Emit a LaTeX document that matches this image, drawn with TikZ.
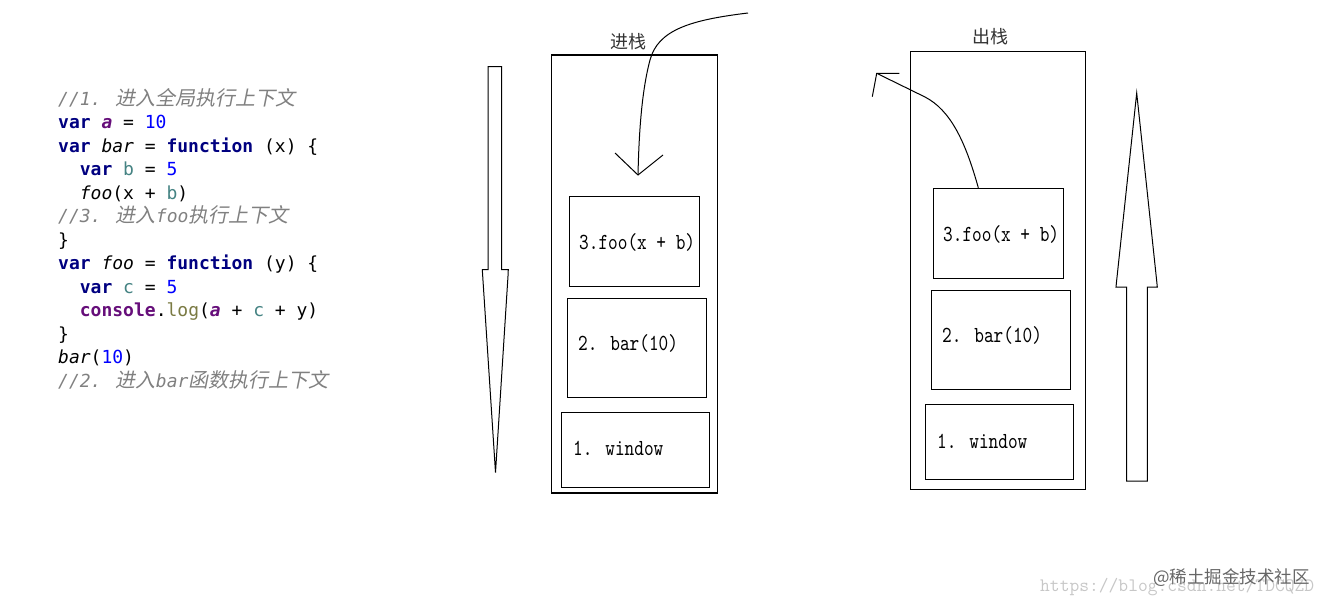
\documentclass[tikz,border=0pt]{standalone}
\usepackage{fontspec}
\newfontfamily\codefont{DejaVu Sans Mono}
\newfontfamily\cjkfont{Noto Sans CJK SC}
\newfontfamily\cjkslant[FakeSlant=0.2]{Noto Sans CJK SC}
\newfontfamily\boxfont[FakeStretch=0.8]{lmmono10-regular.otf}
\definecolor{kwc}{HTML}{000080}
\definecolor{purp}{HTML}{660E7A}
\definecolor{numc}{HTML}{0000FF}
\definecolor{teal2}{HTML}{458383}
\definecolor{olive2}{HTML}{7A7A43}
\definecolor{cmtc}{HTML}{808080}
\newcommand\jkw[1]{\textcolor{kwc}{\bfseries #1}}
\newcommand\jva[1]{\textcolor{purp}{\bfseries\itshape #1}}
\newcommand\jnum[1]{\textcolor{numc}{#1}}
\newcommand\jvb[1]{\textcolor{teal2}{#1}}
\newcommand\jcons[1]{\textcolor{purp}{\bfseries #1}}
\newcommand\jlog[1]{\textcolor{olive2}{#1}}
\newcommand\jcmt[1]{\textcolor{cmtc}{#1}}
\newcommand\jzh[1]{{\cjkslant\fontsize{20}{22}\selectfont #1}}
\begin{document}
\begin{tikzpicture}[x=1pt,y=-1pt,
  codeline/.style={anchor=base west,inner sep=0pt,font=\codefont\fontsize{18}{20}\selectfont},
  frame/.style={draw=black,line width=1.1pt,inner sep=0pt},
  boxtext/.style={anchor=west,inner sep=0pt,text=black,font=\boxfont\fontsize{23}{24}\selectfont},
  title/.style={inner sep=0pt,text=black!80,font=\cjkfont\fontsize{18}{20}\selectfont},
  line/.style={draw=black,line width=1pt},
  bigarrow/.style={draw=black,line width=1pt,line join=miter}]
\useasboundingbox (0,0) rectangle (1331,605);

% code
\node[codeline] (c1) at (58,105) {\jcmt{\itshape //1. \jzh{进入全局执行上下文}}};
\node[codeline] (c2) at (58,128.5) {\jkw{var} \jva{a} = \jnum{10}};
\node[codeline] (c3) at (58,152) {\jkw{var} \textit{bar} = \jkw{function} (x) \{};
\node[codeline] (c4) at (79.7,175.5) {\jkw{var} \jvb{b} = \jnum{5}};
\node[codeline] (c5) at (79.7,199) {\textit{foo}(x + \jvb{b})};
\node[codeline] (c6) at (58,222.5) {\jcmt{\itshape //3. \jzh{进入}foo\jzh{执行上下文}}};
\node[codeline] (c7) at (58,246) {\}};
\node[codeline] (c8) at (58,269.5) {\jkw{var} \textit{foo} = \jkw{function} (y) \{};
\node[codeline] (c9) at (79.7,293) {\jkw{var} \jvb{c} = \jnum{5}};
\node[codeline] (c10) at (79.7,316.5) {\jcons{console}.\jlog{log}(\jva{a} + \jvb{c} + y)};
\node[codeline] (c11) at (58,340) {\}};
\node[codeline] (c12) at (58,363.5) {\textit{bar}(\jnum{10})};
\node[codeline] (c13) at (58,387) {\jcmt{\itshape //2. \jzh{进入}bar\jzh{函数执行上下文}}};

% push stack
\node[title] (tin) at (628,42) {进栈};
\node[frame,minimum width=165.8pt,minimum height=438pt] (lstack) at (634.4,274) {};
\node[frame,minimum width=129.7pt,minimum height=89.6pt] (lfoo) at (634.2,241.5) {};
\node[frame,minimum width=139.4pt,minimum height=98.7pt] (lbar) at (637,347.7) {};
\node[frame,minimum width=148pt,minimum height=75pt] (lwin) at (635.3,449.8) {};
\node[boxtext] (lfoot) at (579,242) {3.foo(x + b)};
\node[boxtext] (lbart) at (578,343) {2. bar(10)};
\node[boxtext] (lwint) at (573,448) {1. window};

% push arrow
\coordinate (pstart) at (748,13);
\coordinate (ptip) at (638,175);
\coordinate (ph1) at (615,153);
\coordinate (ph2) at (663,155);
\draw[line] (pstart) .. controls (690,20) and (658,30) .. (650,60)
  .. controls (642,90) and (639,130) .. (ptip);
\draw[line] (ph1) -- (ptip) -- (ph2);

% down big arrow
\draw[bigarrow] (488,66.5) -- (501.5,66.5) -- (501.5,269.5) -- (508.3,269.5) -- (508,276)
  -- (495.5,472.5) -- (482.7,276) -- (482.3,269.5) -- (488,269.5) -- cycle;

% pop stack
\node[title] (tout) at (990,37) {出栈};
\node[frame,minimum width=175pt,minimum height=437.6pt] (rstack) at (997.8,270.5) {};
\node[frame,minimum width=130pt,minimum height=90pt] (rfoo) at (998.3,233.3) {};
\node[frame,minimum width=139.4pt,minimum height=98.7pt] (rbar) at (1001,339.7) {};
\node[frame,minimum width=148pt,minimum height=74.6pt] (rwin) at (999.3,442) {};
\node[boxtext] (rfoot) at (943,234) {3.foo(x + b)};
\node[boxtext] (rbart) at (942,335) {2. bar(10)};
\node[boxtext] (rwint) at (937,441) {1. window};

% pop arrow
\coordinate (qstart) at (rfoo.north -| 978.3,0);
\coordinate (qtip) at (876.7,73.3);
\coordinate (qh1) at (899.3,73.3);
\coordinate (qh2) at (872.3,96.7);
\draw[line] (qstart) .. controls (965,140) and (950,110) .. (925,97) -- (qtip);
\draw[line] (qh1) -- (qtip) -- (qh2);

% up big arrow
\draw[bigarrow] (1126.7,481) -- (1147.3,481) -- (1147.3,287) -- (1157.3,287) -- (1156.7,281)
  -- (1136.7,93) -- (1116.6,281) -- (1116,287) -- (1126.7,287) -- cycle;

% watermark
\node[anchor=base west,inner sep=0pt,text=black!22,font=\ttfamily\fontsize{19}{20}\selectfont] (wm1) at (1040,591) {https://blog.csdn.net/TDCQZD};
\node[anchor=base west,inner sep=0pt,text=black!60,font=\cjkfont\fontsize{17.5}{19}\selectfont] (wm2) at (1153,583) {@稀土掘金技术社区};
\end{tikzpicture}
\end{document}
